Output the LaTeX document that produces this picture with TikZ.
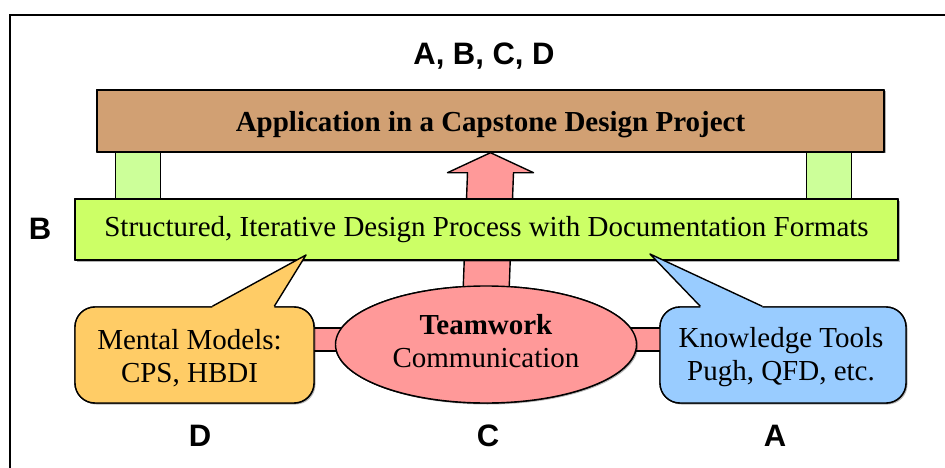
\documentclass[tikz,border=0pt]{standalone}
\usepackage{fontspec}
\setmainfont{Liberation Serif}
\setsansfont{Liberation Sans}
\usetikzlibrary{shapes.geometric, arrows.meta, positioning, calc, shadows}

\definecolor{tanbrown}{RGB}{209,160,115}
\definecolor{limegreen}{RGB}{204,255,102}
\definecolor{palegreen}{RGB}{204,255,153}
\definecolor{salmon}{RGB}{255,153,153}
\definecolor{mango}{RGB}{255,204,102}
\definecolor{skyblue}{RGB}{153,204,255}

\begin{document}
\begin{tikzpicture}[
  x=1pt, y=-1pt,
  outline/.style={draw=black, line width=1.4pt, line join=round},
  shadowed/.style={drop shadow={shadow xshift=1.5pt, shadow yshift=-1.5pt, opacity=0.3, fill=black}},
  beam/.style={outline, rectangle, inner sep=0pt, align=center},
  bubble/.style={outline, rectangle, rounded corners=20pt, inner sep=0pt, align=center,
    minimum height=96pt, font=\fontsize{29}{33}\selectfont},
  pillar/.style={outline, fill=palegreen},
  bar/.style={outline, fill=salmon},
  letter/.style={font=\sffamily\bfseries\fontsize{31}{33}\selectfont}
]
  \useasboundingbox (0,0) rectangle (945,468);
  \clip (0,0) rectangle (945,468);
  \draw[line width=1.6pt] (10,480) |- (960,15);

  \node[beam, fill=tanbrown, minimum width=787pt, minimum height=62pt] (app) at (490.5,121) {};
  \node[beam, fill=limegreen, minimum width=823pt, minimum height=61pt] (struct) at (486.5,229.5) {};
  \node[ellipse, outline, fill=salmon, minimum width=301pt, minimum height=117pt, inner sep=0pt] (team) at (486,344.5) {};
  \node[bubble, fill=mango, minimum width=239pt] (mental) at (194.5,355) {};
  \node[bubble, fill=skyblue, minimum width=246pt] (tools) at (783,355) {};
  \coordinate (mtip) at (306,255);
  \coordinate (ttip) at (650,254);

  % pillars, arrow and links sit behind the boxes
  \draw[pillar] ($(app.south west)+(19,-3)$) rectangle ($(app.south west)+(64,50)$);
  \draw[pillar] ($(app.south east)+(-78,-3)$) rectangle ($(app.south east)+(-33,50)$);
  \draw[bar] (app.south) -- ++(43,20) -- ++(-20,0) -- ($(team.north)+(23,8)$)
    -- ($(team.north)+(-23,8)$) -- ($(app.south)+(-23,20)$) -- ++(-20,0) -- cycle;
  \draw[bar] ($(mental.east)+(-5,-27)$) rectangle ($(tools.west)+(5,-4)$);

  \node[beam, shadowed, fill=tanbrown, minimum width=787pt, minimum height=62pt] at (app) {};
  \node[font=\bfseries\fontsize{29}{33}\selectfont] at ($(app)+(0,4)$) {Application in a Capstone Design Project};
  \node[beam, shadowed, fill=limegreen, minimum width=823pt, minimum height=61pt,
    font=\fontsize{29}{33}\selectfont] at (struct) {Structured, Iterative Design Process with Documentation Formats};

  \node[bubble, shadowed, fill=mango, minimum width=239pt] at (mental) {};
  \node[align=center, font=\fontsize{29}{33}\selectfont] at ($(mental)+(-5,3)$) {Mental Models:\\CPS, HBDI};
  \fill[mango] ($(mental.north west)+(138,0)$) -- (mtip) -- ($(mental.north west)+(200,0)$)
    -- ($(mental.north west)+(200,4)$) -- ($(mental.north west)+(138,4)$) -- cycle;
  \draw[outline] ($(mental.north west)+(138,0)$) -- (mtip) -- ($(mental.north west)+(200,0)$);

  \node[bubble, shadowed, fill=skyblue, minimum width=246pt] at (tools) {};
  \node[align=center, font=\fontsize{29}{33}\selectfont] at ($(tools)+(-2,2)$) {Knowledge Tools\\Pugh, QFD, etc.};
  \fill[skyblue] ($(tools.north west)+(41,0)$) -- (ttip) -- ($(tools.north west)+(103,0)$)
    -- ($(tools.north west)+(103,4)$) -- ($(tools.north west)+(41,4)$) -- cycle;
  \draw[outline] ($(tools.north west)+(41,0)$) -- (ttip) -- ($(tools.north west)+(103,0)$);

  \node[ellipse, outline, shadowed, fill=salmon, minimum width=301pt, minimum height=117pt, inner sep=0pt] at (team) {};
  \node[align=center, font=\fontsize{29}{33}\selectfont] at ($(team)+(0,-3)$) {\textbf{Teamwork}\\Communication};

  \node[letter] (all) at (484,56) {A, B, C, D};
  \node[letter] (lb) at (40,229) {B};
  \node[letter] (ld) at (200,436) {D};
  \node[letter] (lc) at (488,436) {C};
  \node[letter] (la) at (775,436) {A};
\end{tikzpicture}
\end{document}
